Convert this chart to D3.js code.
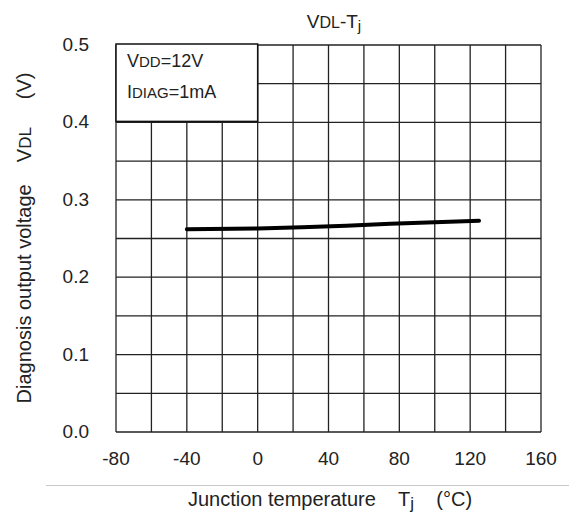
<!DOCTYPE html>
<html>
<head>
<meta charset="utf-8" />
<title>VDL-Tj</title>
<script src="https://d3js.org/d3.v7.min.js"></script>
<style>
body{
    margin:0;
    background:#fff;
}
svg text{
    font-family:"Liberation Sans", Arial, sans-serif;
    fill:#222;
}
.grid line{
    stroke:#222;
    stroke-width:1.3px;
}
.curve{
    fill:none;
    stroke:#000;
    stroke-width:4px;
    stroke-linecap:round;
}
</style>
</head>
<body>
<svg id="chart" width="569" height="515"></svg>
<script>

// data
var tempC = [-40, 0, 25, 50, 75, 100, 125];
var vdl = [0.262, 0.263, 0.2645, 0.2665, 0.269, 0.271, 0.273];

var xTicks = [-80, -40, 0, 40, 80, 120, 160];
var yTicks = [0, 0.1, 0.2, 0.3, 0.4, 0.5];
var xGrid = d3.range(-80, 161, 20);
var yGrid = d3.range(0, 0.501, 0.05);

var margin = {top: 45, right: 28, bottom: 83, left: 116},
    width = 569 - margin.left - margin.right,
    height = 515 - margin.top - margin.bottom;

var svg = d3.select("#chart");
var g = svg.append("g")
    .attr("transform", "translate(" + margin.left + "," + margin.top + ")");

var x = d3.scaleLinear().domain([-80, 160]).range([0, width]);
var y = d3.scaleLinear().domain([0, 0.5]).range([height, 0]);

// grid
var grid = g.append("g").attr("class", "grid");
grid.selectAll(".vx")
    .data(xGrid)
    .enter().append("line")
    .attr("x1", function(d){return x(d);})
    .attr("x2", function(d){return x(d);})
    .attr("y1", 0)
    .attr("y2", height);
grid.selectAll(".hy")
    .data(yGrid)
    .enter().append("line")
    .attr("x1", 0)
    .attr("x2", width)
    .attr("y1", function(d){return y(d);})
    .attr("y2", function(d){return y(d);});

// tick labels
g.selectAll(".xl")
    .data(xTicks)
    .enter().append("text")
    .attr("x", function(d){return x(d);})
    .attr("y", height + 33)
    .attr("text-anchor", "middle")
    .style("font-size", "19px")
    .text(function(d){return d;});

g.selectAll(".yl")
    .data(yTicks)
    .enter().append("text")
    .attr("x", -27)
    .attr("y", function(d){return y(d) + 6;})
    .attr("text-anchor", "end")
    .style("font-size", "19px")
    .text(function(d){return d.toFixed(1);});

// curve
var line = d3.line()
    .x(function(d, i){return x(tempC[i]);})
    .y(function(d){return y(d);})
    .curve(d3.curveMonotoneX);
g.append("path")
    .attr("class", "curve")
    .attr("d", line(vdl));

// condition box
g.append("rect")
    .attr("x", x(-80))
    .attr("y", y(0.5) - 1)
    .attr("width", x(0) - x(-80))
    .attr("height", y(0.4) - y(0.5))
    .attr("fill", "#fff")
    .attr("stroke", "#111")
    .attr("stroke-width", 1.5);

var box = g.append("text").style("font-size", "18px");
box.append("tspan").attr("x", 11).attr("y", 22).text("V");
box.append("tspan").style("font-size", "15px").text("DD");
box.append("tspan").text("=12V");
var box2 = g.append("text").style("font-size", "18px");
box2.append("tspan").attr("x", 11).attr("y", 53).text("I");
box2.append("tspan").style("font-size", "15px").text("DIAG");
box2.append("tspan").text("=1mA");

// title
var title = svg.append("text")
    .attr("x", 334)
    .attr("y", 28)
    .attr("text-anchor", "middle")
    .style("font-size", "19px");
title.append("tspan").text("V");
title.append("tspan").style("font-size", "16px").text("DL");
title.append("tspan").text("-T");
title.append("tspan").style("font-size", "15px").attr("dy", 3).text("j");

// y label
var yl = svg.append("text")
    .attr("transform", "translate(31,238) rotate(-90)")
    .attr("text-anchor", "middle")
    .style("font-size", "20px");
yl.append("tspan").text("Diagnosis output voltage\u00a0\u00a0\u00a0\u00a0V");
yl.append("tspan").style("font-size", "17px").text("DL");
yl.append("tspan").text("\u00a0\u00a0\u00a0\u00a0\u00a0(V)");

// separator line above x label
svg.append("line")
    .attr("x1", 46)
    .attr("x2", 569)
    .attr("y1", 485.5)
    .attr("y2", 485.5)
    .attr("stroke", "#c8c8c8")
    .attr("stroke-width", 1);

// x label
var xl = svg.append("text")
    .attr("x", 330)
    .attr("y", 506)
    .attr("text-anchor", "middle")
    .style("font-size", "20px");
xl.append("tspan").text("Junction temperature\u00a0\u00a0\u00a0\u00a0T");
xl.append("tspan").style("font-size", "17px").attr("dy", 3).text("j");
xl.append("tspan").attr("dy", -3).text("\u00a0\u00a0\u00a0\u00a0(°C)");

</script>
</body>
</html>
